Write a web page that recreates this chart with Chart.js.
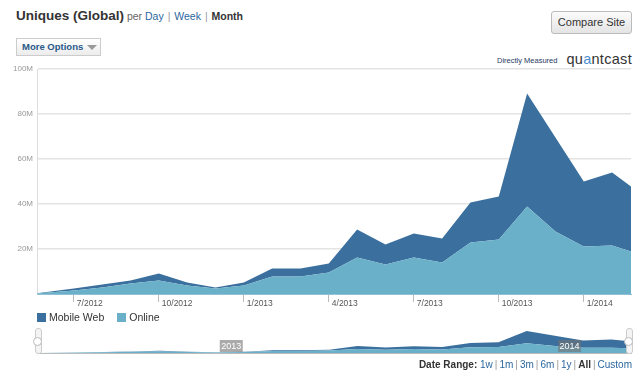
<!DOCTYPE html>
<html>
<head>
<meta charset="utf-8">
<script src="https://cdn.jsdelivr.net/npm/chart.js@4.4.1/dist/chart.umd.min.js"></script>
<style>
  body { margin: 0; width: 640px; height: 374px; position: relative; overflow: hidden;
         font-family: "Liberation Sans", Arial, Helvetica, sans-serif; background: #fff; color: #333; }
  .abs { position: absolute; }
  .lnk { color: #2b679e; }
  .sep { color: #999; margin: 0 1px; }
  #title { left: 16px; top: 8px; font-size: 10.5px; line-height: 16px; white-space: nowrap; }
  #title .big { font-size: 13.5px; font-weight: bold; color: #333; }
  #title .per { color: #666; }
  #moreBtn { left: 16px; top: 38px; width: 78px; height: 16px; border: 1px solid #ccc;
             background: linear-gradient(#fff, #ececec); font-size: 9.5px; font-weight: bold;
             color: #2a5a8a; line-height: 16px; padding-left: 5px; box-sizing: content-box; }
  #moreBtn .tri { position: absolute; left: 70px; top: 6px; width: 0; height: 0;
                  border-left: 5px solid transparent; border-right: 5px solid transparent; border-top: 5px solid #999; }
  #compare { left: 551px; top: 11px; width: 79px; height: 21px; border: 1px solid #bbb; border-radius: 3px;
             background: linear-gradient(#fbfbfb, #e4e4e4); font-size: 11px; line-height: 21px; text-align: center; color: #333; }
  #measured { left: 497px; top: 56px; font-size: 7.5px; color: #1f3a5f; }
  #qc { right: 8px; top: 51px; font-size: 14.5px; letter-spacing: 0.3px; color: #333; }
  #legend { left: 37px; top: 312px; font-size: 10.5px; color: #333; line-height: 11px; white-space: nowrap; }
  #legend .item { display: inline-block; margin-right: 13px; }
  #legend .sw { display: inline-block; width: 9px; height: 9px; vertical-align: -1px; margin-right: 3px; }
  .handle { top: 328px; width: 5px; height: 24px; border: 1px solid #ccc; border-radius: 3px; background: #f4f4f4; }
  .handle .knob { position: absolute; left: -3px; top: 8px; width: 9px; height: 9px; border-radius: 50%;
                  border: 1px solid #bbb; background: #fff; box-sizing: border-box; }
  #navLine { left: 37px; top: 353px; width: 595px; height: 1px; background: #bbb; }
  #range { right: 8px; top: 359px; font-size: 10px; white-space: nowrap; }
  #range .sep { margin: 0 2px; }
  #range b { color: #333; }
</style>
</head>
<body>

<div id="title" class="abs">
  <span class="big">Uniques (Global)</span> <span class="per">per</span>
  <span class="lnk">Day</span> <span class="sep">|</span> <span class="lnk">Week</span> <span class="sep">|</span> <b>Month</b>
</div>
<div id="compare" class="abs">Compare Site</div>
<div id="moreBtn" class="abs">More Options<span class="tri"></span></div>
<div id="measured" class="abs">Directly Measured</div>
<div id="qc" class="abs">qu<span style="color:#4a8fd0">a</span>ntcast</div>

<div class="abs" style="left:0;top:60px;width:640px;height:254px;"><canvas id="main"></canvas></div>

<div id="legend" class="abs"></div>

<div class="abs" style="left:39px;top:326px;width:591px;height:27px;"><canvas id="nav"></canvas></div>
<div id="navLine" class="abs"></div>
<div class="abs handle" style="left:35px;"><div class="knob"></div></div>
<div class="abs handle" style="left:626px;"><div class="knob"></div></div>

<div id="range" class="abs"><b>Date Range:</b> <span class="lnk">1w</span><span class="sep">|</span><span class="lnk">1m</span><span class="sep">|</span><span class="lnk">3m</span><span class="sep">|</span><span class="lnk">6m</span><span class="sep">|</span><span class="lnk">1y</span><span class="sep">|</span><b>All</b><span class="sep">|</span><span class="lnk">Custom</span></div>

<script>
// данные (уникальные посетители, в миллионах)
const dates = ['2012-05-22', '2012-07-01', '2012-08-01', '2012-09-01', '2012-10-01', '2012-11-01', '2012-12-01',
               '2013-01-01', '2013-02-01', '2013-03-01', '2013-04-01', '2013-05-01', '2013-06-01', '2013-07-01',
               '2013-08-01', '2013-09-01', '2013-10-01', '2013-11-01', '2013-12-01', '2014-01-01', '2014-02-01',
               '2014-02-21'];
const online = [0.2, 1.6, 2.9, 4.7, 6.0, 3.8, 2.4, 3.8, 7.8, 7.8, 9.6, 16.2, 13.1, 16.2, 14.0, 22.9, 24.2, 38.9, 27.8, 21.1, 21.6, 18.9];
const mobileWeb = [0.1, 0.8, 1.3, 1.3, 3.1, 1.3, 0.5, 1.3, 3.5, 3.5, 4.0, 12.5, 8.9, 10.7, 10.7, 17.8, 19.1, 50.2, 41.8, 28.9, 32.4, 28.9];
const seriesNames = ['Mobile Web', 'Online'];
const tickDates = ['2012-07-01', '2012-10-01', '2013-01-01', '2013-04-01', '2013-07-01', '2013-10-01', '2014-01-01'];
const tickLabels = ['7/2012', '10/2012', '1/2013', '4/2013', '7/2013', '10/2013', '1/2014'];
const navYears = ['2013', '2014'];
const navYearDates = ['2013-01-01', '2014-01-01'];

const DARK = '#3a6f9e';
const LIGHT = '#6ab0c9';

// дата -> номер месяца (дробный), 0 = январь 2012
function monthIndex(d) {
    const [y, m, day] = d.split('-').map(Number);
    return (y - 2012) * 12 + (m - 1) + (day - 1) / 30;
}

const xs = dates.map(monthIndex);
const xMin = xs[0];
const xMax = xs[xs.length - 1];

function makeDatasets() {
    return [
        {
            label: 'Online',
            data: online.map((v, i) => ({ x: xs[i], y: v })),
            backgroundColor: LIGHT,
            borderWidth: 0,
            borderColor: 'rgba(0,0,0,0)',
            fill: 'origin',
            pointRadius: 0
        },
        {
            label: 'Mobile Web',
            data: mobileWeb.map((v, i) => ({ x: xs[i], y: v })),
            backgroundColor: DARK,
            borderWidth: 0,
            borderColor: 'rgba(0,0,0,0)',
            fill: '-1',
            pointRadius: 0
        }
    ];
}

Chart.defaults.font.family = '"Liberation Sans", Arial, Helvetica, sans-serif';

// основной график
new Chart(document.getElementById('main'), {
    type: 'line',
    data: { datasets: makeDatasets() },
    options: {
        responsive: true,
        maintainAspectRatio: false,
        animation: false,
        layout: { padding: { top: 9, right: 9, left: 0, bottom: 0 } },
        plugins: { legend: { display: false }, tooltip: { enabled: false } },
        elements: { line: { tension: 0 } },
        scales: {
            x: {
                type: 'linear',
                min: xMin,
                max: xMax,
                afterBuildTicks: (axis) => { axis.ticks = tickDates.map(d => ({ value: monthIndex(d) })); },
                afterFit: (scale) => { scale.height = 20; },
                grid: { drawOnChartArea: false, drawTicks: true, tickLength: 8, color: '#bbb' },
                border: { color: '#8fc0d4' },
                ticks: {
                    autoSkip: false,
                    maxRotation: 0,
                    align: 'start',
                    labelOffset: 3,
                    padding: -3,
                    color: '#555',
                    font: { size: 8.5 },
                    callback: (v, i) => tickLabels[i]
                }
            },
            y: {
                stacked: true,
                min: 0,
                max: 100,
                z: 1,
                afterFit: (scale) => { scale.width = 37; },
                border: { color: '#ddd' },
                grid: {
                    drawTicks: false,
                    lineWidth: 1.5,
                    color: (ctx) => ctx.tick && ctx.tick.value === 0 ? 'rgba(0,0,0,0)' : 'rgba(0,0,0,0.11)'
                },
                ticks: {
                    stepSize: 20,
                    padding: 4,
                    color: '#999',
                    font: { size: 8 },
                    callback: (v) => v ? v + 'M' : ''
                }
            }
        }
    }
});

// подписи годов в навигаторе
const yearLabels = {
    id: 'yearLabels',
    afterDatasetsDraw(chart) {
        const ctx = chart.ctx;
        const xScale = chart.scales.x;
        ctx.save();
        ctx.font = '9px "Liberation Sans", Arial, sans-serif';
        ctx.textBaseline = 'middle';
        ctx.textAlign = 'center';
        navYearDates.forEach((d, i) => {
            const px = xScale.getPixelForValue(monthIndex(d));
            ctx.fillStyle = 'rgba(115,115,115,0.6)';
            ctx.fillRect(px - 25, 14, 23, 12);
            ctx.fillStyle = '#fff';
            ctx.fillText(navYears[i], px - 13.5, 20.5);
        });
        ctx.restore();
    }
};

// навигатор
new Chart(document.getElementById('nav'), {
    type: 'line',
    data: { datasets: makeDatasets() },
    options: {
        responsive: true,
        maintainAspectRatio: false,
        animation: false,
        layout: { padding: 0 },
        plugins: { legend: { display: false }, tooltip: { enabled: false } },
        elements: { line: { tension: 0 } },
        scales: {
            x: { type: 'linear', min: xMin, max: xMax, display: false },
            y: { stacked: true, min: 0, max: 109, display: false }
        }
    },
    plugins: [yearLabels]
});

// легенда
const legend = document.getElementById('legend');
[DARK, LIGHT].forEach((color, i) => {
    const item = document.createElement('span');
    item.className = 'item';
    item.innerHTML = `<span class="sw" style="background:${color}"></span>${seriesNames[i]}`;
    legend.appendChild(item);
});
</script>
</body>
</html>
